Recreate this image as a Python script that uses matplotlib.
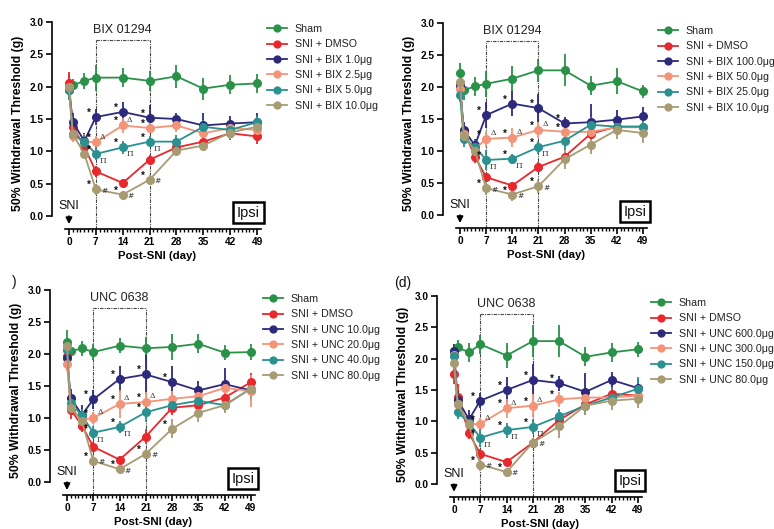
import matplotlib.pyplot as plt
from matplotlib.ticker import MultipleLocator

plt.rcParams['font.family'] = ['Liberation Sans', 'DejaVu Sans']

DAYS = [0, 1, 4, 7, 14, 21, 28, 35, 42, 49]
COLORS = ['#2a9148', '#e8282c', '#2d2a7c', '#f39479', '#2a9190', '#a69b72']

# top left: BIX 01294 low doses
A_LABELS = ['Sham', 'SNI + DMSO', 'SNI + BIX 1.0\u03bcg', 'SNI + BIX 2.5\u03bcg',
            'SNI + BIX 5.0\u03bcg', 'SNI + BIX 10.0\u03bcg']
A_SHAM = [2.00, 2.02, 2.09, 2.14, 2.14, 2.09, 2.16, 1.97, 2.03, 2.05]
A_DMSO = [2.05, 1.38, 1.07, 0.69, 0.51, 0.87, 1.06, 1.15, 1.28, 1.23]
A_D1 = [1.95, 1.45, 1.16, 1.53, 1.61, 1.52, 1.50, 1.40, 1.43, 1.45]
A_D2 = [2.00, 1.24, 1.15, 1.14, 1.40, 1.36, 1.40, 1.28, 1.36, 1.33]
A_D3 = [1.95, 1.27, 1.15, 0.96, 1.06, 1.15, 1.15, 1.38, 1.33, 1.45]
A_D4 = [2.00, 1.27, 0.96, 0.41, 0.33, 0.56, 1.01, 1.09, 1.29, 1.38]
A_SHAM_ERR = [0.20, 0.10, 0.12, 0.20, 0.15, 0.15, 0.18, 0.17, 0.15, 0.15]
A_DMSO_ERR = [0.18, 0.10, 0.10, 0.08, 0.05, 0.08, 0.08, 0.08, 0.10, 0.12]
A_D1_ERR = [0.10, 0.15, 0.12, 0.12, 0.15, 0.20, 0.10, 0.20, 0.12, 0.15]
A_D2_ERR = [0.10, 0.10, 0.12, 0.10, 0.12, 0.08, 0.10, 0.10, 0.10, 0.10]
A_D3_ERR = [0.10, 0.08, 0.10, 0.10, 0.10, 0.08, 0.10, 0.10, 0.10, 0.10]
A_D4_ERR = [0.10, 0.08, 0.08, 0.08, 0.06, 0.08, 0.06, 0.08, 0.10, 0.10]
A_MARKS = [(2, 7, '*'), (2, 14, '*'), (2, 21, '*'),
           (3, 7, '*'), (3, 14, '*'), (3, 21, '*'), (3, 7, '\u0394'), (3, 14, '\u0394'),
           (4, 7, '*'), (4, 14, '*'), (4, 21, '*'), (4, 7, '\u03a0'), (4, 14, '\u03a0'), (4, 21, '\u03a0'),
           (5, 7, '*'), (5, 14, '*'), (5, 21, '*'), (5, 7, '#'), (5, 14, '#'), (5, 21, '#')]

# top right: BIX 01294 high doses
B_LABELS = ['Sham', 'SNI + DMSO', 'SNI + BIX 100.0\u03bcg', 'SNI + BIX 50.0\u03bcg',
            'SNI + BIX 25.0\u03bcg', 'SNI + BIX 10.0\u03bcg']
B_SHAM = [2.22, 1.95, 2.01, 2.05, 2.13, 2.26, 2.26, 2.02, 2.09, 1.93]
B_DMSO = [2.03, 1.32, 0.91, 0.59, 0.46, 0.75, 0.91, 1.27, 1.38, 1.38]
B_D1 = [2.01, 1.33, 1.09, 1.56, 1.74, 1.67, 1.43, 1.45, 1.49, 1.54]
B_D2 = [1.97, 1.27, 1.03, 1.19, 1.21, 1.33, 1.30, 1.30, 1.37, 1.37]
B_D3 = [1.87, 1.19, 1.07, 0.86, 0.88, 1.06, 1.16, 1.41, 1.38, 1.38]
B_D4 = [2.08, 1.24, 1.00, 0.42, 0.32, 0.45, 0.87, 1.10, 1.33, 1.28]
B_SHAM_ERR = [0.15, 0.15, 0.15, 0.20, 0.20, 0.18, 0.25, 0.15, 0.20, 0.10]
B_DMSO_ERR = [0.12, 0.10, 0.10, 0.06, 0.06, 0.08, 0.08, 0.10, 0.10, 0.08]
B_D1_ERR = [0.10, 0.12, 0.10, 0.20, 0.20, 0.22, 0.10, 0.28, 0.15, 0.15]
B_D2_ERR = [0.10, 0.10, 0.10, 0.12, 0.15, 0.12, 0.10, 0.10, 0.10, 0.10]
B_D3_ERR = [0.10, 0.12, 0.10, 0.15, 0.08, 0.10, 0.15, 0.12, 0.10, 0.10]
B_D4_ERR = [0.10, 0.10, 0.10, 0.10, 0.10, 0.10, 0.15, 0.15, 0.15, 0.15]
B_MARKS = [(2, 7, '*'), (2, 14, '*'), (2, 21, '*'), (2, 28, '*'),
           (3, 7, '*'), (3, 14, '*'), (3, 21, '*'), (3, 28, '*'),
           (3, 7, '\u0394'), (3, 14, '\u0394'), (3, 21, '\u0394'),
           (4, 7, '*'), (4, 14, '*'), (4, 21, '*'), (4, 7, '\u03a0'), (4, 14, '\u03a0'), (4, 21, '\u03a0'),
           (5, 7, '*'), (5, 14, '*'), (5, 21, '*'), (5, 7, '#'), (5, 14, '#'), (5, 21, '#')]

# bottom left: UNC 0638 low doses
C_LABELS = ['Sham', 'SNI + DMSO', 'SNI + UNC 10.0\u03bcg', 'SNI + UNC 20.0\u03bcg',
            'SNI + UNC 40.0\u03bcg', 'SNI + UNC 80.0\u03bcg']
C_SHAM = [2.18, 2.04, 2.09, 2.03, 2.13, 2.09, 2.11, 2.16, 2.02, 2.03]
C_DMSO = [1.97, 1.13, 0.88, 0.55, 0.35, 0.71, 1.16, 1.20, 1.32, 1.56]
C_D1 = [1.93, 1.31, 1.05, 1.29, 1.61, 1.68, 1.56, 1.43, 1.53, 1.43]
C_D2 = [1.85, 1.17, 0.97, 1.00, 1.22, 1.25, 1.30, 1.34, 1.47, 1.42]
C_D3 = [2.06, 1.23, 1.04, 0.77, 0.86, 1.09, 1.20, 1.27, 1.20, 1.46]
C_D4 = [2.12, 1.16, 0.95, 0.33, 0.20, 0.44, 0.83, 1.08, 1.20, 1.46]
C_SHAM_ERR = [0.20, 0.12, 0.12, 0.12, 0.12, 0.18, 0.20, 0.15, 0.12, 0.12]
C_DMSO_ERR = [0.12, 0.15, 0.10, 0.08, 0.05, 0.12, 0.12, 0.10, 0.12, 0.15]
C_D1_ERR = [0.10, 0.15, 0.15, 0.15, 0.20, 0.30, 0.25, 0.15, 0.25, 0.15]
C_D2_ERR = [0.12, 0.10, 0.10, 0.10, 0.22, 0.15, 0.12, 0.15, 0.12, 0.25]
C_D3_ERR = [0.10, 0.10, 0.10, 0.10, 0.10, 0.15, 0.12, 0.15, 0.10, 0.15]
C_D4_ERR = [0.10, 0.10, 0.10, 0.08, 0.06, 0.08, 0.15, 0.15, 0.12, 0.15]
C_MARKS = [(2, 7, '*'), (2, 14, '*'), (2, 21, '*'), (2, 28, '*'),
           (3, 7, '*'), (3, 14, '*'), (3, 21, '*'), (3, 7, '\u0394'), (3, 14, '\u0394'), (3, 21, '\u0394'),
           (4, 7, '*'), (4, 14, '*'), (4, 21, '*'), (4, 7, '\u03a0'), (4, 14, '\u03a0'),
           (5, 7, '*'), (5, 14, '*'), (5, 21, '*'), (5, 28, '*'), (5, 7, '#'), (5, 14, '#'), (5, 21, '#')]

# bottom right: UNC 0638 high doses
D_LABELS = ['Sham', 'SNI + DMSO', 'SNI + UNC 600.0\u03bcg', 'SNI + UNC 300.0\u03bcg',
            'SNI + UNC 150.0\u03bcg', 'SNI + UNC 80.0\u03bcg']
D_SHAM = [2.12, 2.18, 2.10, 2.23, 2.05, 2.28, 2.28, 2.03, 2.10, 2.15]
D_DMSO = [1.75, 1.39, 0.81, 0.48, 0.35, 0.66, 1.02, 1.27, 1.44, 1.41]
D_D1 = [2.13, 1.34, 1.03, 1.33, 1.50, 1.66, 1.61, 1.47, 1.66, 1.53]
D_D2 = [2.06, 1.28, 0.95, 0.96, 1.21, 1.25, 1.35, 1.38, 1.38, 1.41]
D_D3 = [2.05, 1.15, 0.97, 0.74, 0.86, 0.91, 1.08, 1.25, 1.38, 1.52]
D_D4 = [1.93, 1.27, 0.95, 0.31, 0.19, 0.66, 0.92, 1.25, 1.33, 1.36]
D_SHAM_ERR = [0.10, 0.12, 0.15, 0.15, 0.20, 0.25, 0.25, 0.15, 0.15, 0.12]
D_DMSO_ERR = [0.15, 0.20, 0.10, 0.08, 0.05, 0.08, 0.12, 0.10, 0.12, 0.15]
D_D1_ERR = [0.10, 0.15, 0.15, 0.12, 0.20, 0.25, 0.12, 0.30, 0.12, 0.15]
D_D2_ERR = [0.10, 0.10, 0.10, 0.10, 0.15, 0.18, 0.12, 0.15, 0.12, 0.10]
D_D3_ERR = [0.12, 0.12, 0.10, 0.15, 0.12, 0.12, 0.12, 0.15, 0.15, 0.18]
D_D4_ERR = [0.10, 0.10, 0.10, 0.10, 0.05, 0.08, 0.18, 0.15, 0.15, 0.15]
D_MARKS = [(2, 7, '*'), (2, 14, '*'), (2, 21, '*'), (2, 28, '*'),
           (3, 7, '*'), (3, 14, '*'), (3, 21, '*'), (3, 28, '*'),
           (3, 7, '\u0394'), (3, 14, '\u0394'), (3, 21, '\u0394'),
           (4, 7, '*'), (4, 14, '*'), (4, 21, '*'), (4, 7, '\u03a0'), (4, 14, '\u03a0'), (4, 21, '\u03a0'),
           (5, 7, '*'), (5, 14, '*'), (5, 7, '#'), (5, 14, '#'), (5, 21, '#')]

W, H = 774, 529
fig = plt.figure(figsize=(W / 100, H / 100), dpi=100)


def px_axes(left, top, right, bottom):
    return fig.add_axes([left / W, 1 - bottom / H, (right - left) / W, (bottom - top) / H])


MARK_OFFSETS = {'*': (-5, 3), '\u0394': (5, 4), '\u03a0': (5, -5), '#': (6, -1)}


def draw_panel(ax, series, errors, labels, title, marks, legend_xy):
    lines = []
    for vals, err, col, lab in zip(series, errors, COLORS, labels):
        ax.errorbar(DAYS, vals, yerr=err, fmt='none', ecolor=col, elinewidth=1.3, capsize=0, zorder=3)
        ln, = ax.plot(DAYS, vals, '-o', color=col, lw=1.3, ms=5.5, label=lab, zorder=4)
        lines.append(ln)

    for idx, day, sym in marks:
        yv = series[idx][DAYS.index(day)]
        dx, dy = MARK_OFFSETS[sym]
        if sym == '*':
            ax.annotate('*', (day, yv), xytext=(dx, dy), textcoords='offset points',
                        ha='center', va='center', fontsize=7, fontweight='bold', color='#111', zorder=6)
        else:
            ax.annotate(sym, (day, yv), xytext=(dx, dy), textcoords='offset points',
                        ha='center', va='center', fontsize=5.5, family='DejaVu Serif',
                        color='#333', zorder=6)

    ax.set_xlim(-4.5, 50.5)
    ax.set_ylim(-0.2, 3.05)
    for s in ['top', 'right']:
        ax.spines[s].set_visible(False)
    ax.spines['left'].set_bounds(0, 3)
    ax.spines['bottom'].set_bounds(-1, 50)
    for s in ['left', 'bottom']:
        ax.spines[s].set_linewidth(1.2)
    ax.set_xticks(range(0, 50, 7))
    ax.set_xticks(range(0, 50), minor=True)
    ax.set_yticks([0, 0.5, 1.0, 1.5, 2.0, 2.5, 3.0])
    ax.set_yticklabels(['0.0', '0.5', '1.0', '1.5', '2.0', '2.5', '3.0'])
    ax.tick_params(axis='both', which='major', length=4, width=1.2, labelsize=7.3, pad=2)
    ax.tick_params(axis='x', which='minor', length=2.5, width=1.0)
    for t in ax.get_xticklabels() + ax.get_yticklabels():
        t.set_fontweight('bold')
    ax.set_xlabel('Post-SNI (day)', fontsize=8.2, fontweight='bold', labelpad=3)
    ax.set_ylabel('50% Withdrawal Threshold (g)', fontsize=8.8, fontweight='bold', labelpad=4)

    # treatment window
    box_style = dict(color='#444', lw=0.8, ls=(0, (3, 1, 1, 1)), zorder=2, clip_on=False)
    ax.plot([7, 7], [-0.2, 2.72], **box_style)
    ax.plot([21, 21], [-0.2, 2.72], **box_style)
    ax.plot([7, 21], [2.72, 2.72], **box_style)
    ax.text(14, 2.87, title, ha='center', va='center', fontsize=9, color='#222')

    ax.text(0, 0.16, 'SNI', ha='center', va='center', fontsize=9, color='#111')
    ax.annotate('', xy=(0, -0.17), xytext=(0, 0.04),
                arrowprops=dict(arrowstyle='-|>', color='k', lw=1.3, mutation_scale=9))
    ax.text(46.8, 0.05, 'Ipsi', ha='center', va='center', fontsize=10.5, color='#111',
            bbox=dict(boxstyle='square,pad=0.25', fc='white', ec='black', lw=1.8))

    fig.legend(handles=lines, loc='upper left', bbox_to_anchor=(legend_xy[0] / W, 1 - legend_xy[1] / H),
               frameon=False, fontsize=7.7, handlelength=1.9, handletextpad=0.7,
               labelspacing=0.5, borderpad=0, borderaxespad=0, markerscale=0.9,
               labelcolor='#222')


ax1 = px_axes(51.7, 18.8, 262.8, 228.9)
draw_panel(ax1, [A_SHAM, A_DMSO, A_D1, A_D2, A_D3, A_D4],
           [A_SHAM_ERR, A_DMSO_ERR, A_D1_ERR, A_D2_ERR, A_D3_ERR, A_D4_ERR],
           A_LABELS, 'BIX 01294', A_MARKS, (267, 24))

ax2 = px_axes(443.2, 19.8, 648.6, 227.8)
draw_panel(ax2, [B_SHAM, B_DMSO, B_D1, B_D2, B_D3, B_D4],
           [B_SHAM_ERR, B_DMSO_ERR, B_D1_ERR, B_D2_ERR, B_D3_ERR, B_D4_ERR],
           B_LABELS, 'BIX 01294', B_MARKS, (658, 26))

ax3 = px_axes(50.1, 286.8, 256.6, 494.8)
draw_panel(ax3, [C_SHAM, C_DMSO, C_D1, C_D2, C_D3, C_D4],
           [C_SHAM_ERR, C_DMSO_ERR, C_D1_ERR, C_D2_ERR, C_D3_ERR, C_D4_ERR],
           C_LABELS, 'UNC 0638', C_MARKS, (263, 294))

ax4 = px_axes(437.1, 292.9, 643.6, 496.5)
draw_panel(ax4, [D_SHAM, D_DMSO, D_D1, D_D2, D_D3, D_D4],
           [D_SHAM_ERR, D_DMSO_ERR, D_D1_ERR, D_D2_ERR, D_D3_ERR, D_D4_ERR],
           D_LABELS, 'UNC 0638', D_MARKS, (651, 298))

# the left panel label is cut off by the image edge; only its closing bracket shows
fig.text(14 / W, 1 - 282 / H, ')', ha='center', va='center', fontsize=10, color='#111')
fig.text(403 / W, 1 - 283 / H, '(d)', ha='center', va='center', fontsize=10, color='#111')

fig.savefig('out.png', dpi=100)
